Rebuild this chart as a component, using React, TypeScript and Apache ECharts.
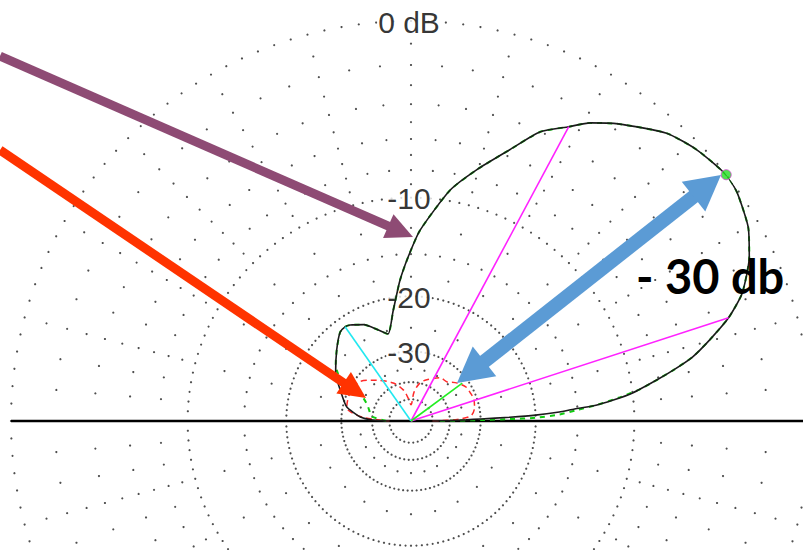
import React, { useEffect, useRef } from "react";
import * as echarts from "echarts";

// ---- grid definition (ARRL log scale, dB) ----
const majorRingDb = [0, -10, -20, -30, -40, -50];
const minorRingDb = [-2, -4, -6, -8, -15];
const radialDotDb = [-1, -3, -5, -7, -9, -12.5, -17.5, -25, -35];
const ringLabelDb = [0, -10, -20, -30];
const ringLabelText = ["0 dB", "-10", "-20", "-30"];

// ---- main pattern (black, total field) : elevation angle (deg) / gain (dB) ----
const mainAngles = [0, 0.6, 1.2, 1.7, 2.2, 2.7, 3.5, 4.2, 4.7, 5.9, 7.2, 9.5, 11, 12.8, 15.2, 18, 21.1, 25.9, 29.9, 35, 38, 43.5, 48.4, 55.1, 59, 61.8, 65.9, 70, 75.3, 80.4, 87.3, 91, 94.5, 99.2, 104.8, 110, 116, 122.4, 125, 128.6, 136.2, 147.4, 159.4, 167.7, 175.5, 178.5, 180];
const mainDb = [-50, -40, -34, -30, -24, -20, -17, -15.3, -13.5, -11.6, -10, -8.1, -6.9, -5.6, -4.4, -3.1, -2.05, -1.06, -0.48, -0.08, 0, -0.26, -0.66, -1.7, -2.4, -3.1, -4.0, -5.6, -7.4, -9.2, -12.7, -15.3, -17.9, -21.9, -25.6, -24.3, -22.6, -21.6, -21.4, -21.6, -23.3, -25.7, -29, -31, -35.4, -40.3, -50];

// ---- co-polar pattern (green dashed) ----
const coAngles = [0, 0.8, 1.1, 1.5, 2.5, 3.8, 5, 6.5, 8, 9.5, 11, 12.8, 15.2, 18, 21.1, 25.9, 29.9, 35, 38, 43.5, 48.4, 55.1, 59, 61.8, 65.9, 70, 75.3, 80.4, 87.3, 91, 94.5, 99.2, 104.8, 110, 116, 122.4, 125, 128.6, 136.2, 143, 147, 150, 153, 160, 170, 174, 180];
const coDb = [-45, -30, -24, -20, -17, -15, -13, -11, -9.3, -8.1, -6.9, -5.6, -4.4, -3.1, -2.05, -1.06, -0.48, -0.08, 0, -0.26, -0.66, -1.7, -2.4, -3.1, -4.0, -5.6, -7.4, -9.2, -12.7, -15.3, -17.9, -21.9, -25.6, -24.3, -22.6, -21.6, -21.4, -21.6, -23.3, -24.8, -26.2, -29, -34, -37, -39, -40, -48];

// ---- cross-polar pattern (red dashed) ----
const crossAngles = [0, 2, 5, 12, 19, 25, 32, 41, 47, 56, 69, 77, 84, 90, 97, 104, 115, 130, 134, 144, 155, 168, 172, 176, 180];
const crossDb = [-50, -37, -32.5, -31.2, -30.8, -31, -31.3, -33, -34.6, -35, -37.8, -40, -45, -55, -49, -43.3, -38.7, -34.6, -33.5, -31, -30.6, -31, -32.6, -37, -50];

// ---- markers ----
const beamEdgeAngles = [61.8, 18];
const beamEdgeDb = -3.1;
const peakAngle = 38;
const peakDb = 0;
const backLobeAngle = 125;
const backLobeDb = -21.4;
const crossAtPeakAngle = 36.5;
const crossAtPeakDb = -31.5;

const annotationText = "- 30 db";

// ARRL log scale: 0.89 per 2 dB
const dbToR = (db: number) => Math.pow(0.89, -db / 2);
const RADIUS_PX = 400;

function buildGridDots() {
  const dots: number[][] = [];
  majorRingDb.forEach((db) => {
    const r = dbToR(db);
    const step = Math.max(2.5, ((4.5 / (r * RADIUS_PX)) * 180) / Math.PI);
    const n = Math.round(360 / step);
    for (let i = 0; i < n; i++) dots.push([r, (i * 360) / n]);
  });
  minorRingDb.forEach((db) => {
    for (let a = 0; a < 360; a += 5) dots.push([dbToR(db), a]);
  });
  radialDotDb.forEach((db) => {
    for (let a = 0; a < 360; a += 15) dots.push([dbToR(db), a]);
  });
  return dots;
}

function arrow(
  x1: number, y1: number, x2: number, y2: number,
  w: number, hl: number, hw: number, color: string, double: boolean
) {
  const dx = x2 - x1, dy = y2 - y1;
  const L = Math.hypot(dx, dy);
  const ux = dx / L, uy = dy / L;
  const px = -uy, py = ux;
  const els: any[] = [];
  const sx = double ? x1 + ux * hl * 0.9 : x1;
  const sy = double ? y1 + uy * hl * 0.9 : y1;
  const ex = x2 - ux * hl * 0.9;
  const ey = y2 - uy * hl * 0.9;
  els.push({
    type: "line",
    z: 100,
    shape: { x1: sx, y1: sy, x2: ex, y2: ey },
    style: { stroke: color, lineWidth: w },
  });
  const head = (tx: number, ty: number, vx: number, vy: number) => ({
    type: "polygon",
    z: 101,
    shape: {
      points: [
        [tx, ty],
        [tx - vx * hl + px * hw, ty - vy * hl + py * hw],
        [tx - vx * hl - px * hw, ty - vy * hl - py * hw],
      ],
    },
    style: { fill: color },
  });
  els.push(head(x2, y2, ux, uy));
  if (double) els.push(head(x1, y1, -ux, -uy));
  return els;
}

const toPolar = (angles: number[], dbs: number[]) =>
  angles.map((a, i) => [dbToR(dbs[i]), a]);

export default function App() {
  const ref = useRef<HTMLDivElement>(null);
  useEffect(() => {
    if (!ref.current) return;
    const chart = echarts.init(ref.current, null, { renderer: "svg", width: 803, height: 550 });
    const radial = (angle: number, db: number) => [[0, angle], [dbToR(db), angle]];
    const lineBase = {
      type: "line",
      coordinateSystem: "polar",
      symbol: "none",
      silent: true,
    };
    chart.setOption({
      animation: false,
      backgroundColor: "#ffffff",
      polar: { center: [411, 421], radius: RADIUS_PX },
      angleAxis: { type: "value", min: 0, max: 360, startAngle: 0, clockwise: false, show: false },
      radiusAxis: { type: "value", min: 0, max: 1, show: false },
      series: [
        {
          type: "scatter",
          coordinateSystem: "polar",
          data: buildGridDots(),
          symbolSize: 2.2,
          itemStyle: { color: "#222" },
          silent: true,
          z: 1,
        },
        {
          type: "scatter",
          coordinateSystem: "polar",
          symbolSize: 1,
          itemStyle: { color: "transparent" },
          silent: true,
          z: 2,
          data: ringLabelDb.map((db, i) => ({ value: [dbToR(db), 90], name: ringLabelText[i] })),
          label: {
            show: true,
            position: "inside",
            formatter: "{b}",
            fontFamily: "Liberation Sans, Arial, sans-serif",
            fontSize: 30,
            lineHeight: 26,
            color: "#000",
            backgroundColor: "#ffffff",
            padding: [0, 1],
            offset: [-2, 1],
          },
        },
        {
          ...lineBase,
          z: 3,
          data: [[1, 0], [0, 0], [1, 180]],
          lineStyle: { color: "#000", width: 2.5 },
        },
        {
          ...lineBase,
          z: 4,
          data: toPolar(crossAngles, crossDb),
          smooth: 0.3,
          lineStyle: { color: "#ff2a2a", width: 1.5, type: [6, 4] },
        },
        {
          ...lineBase,
          z: 4,
          data: toPolar(coAngles, coDb),
          smooth: 0.2,
          lineStyle: { color: "#11cc11", width: 2, type: [5, 5] },
        },
        {
          ...lineBase,
          z: 5,
          data: toPolar(mainAngles, mainDb),
          smooth: 0.2,
          lineStyle: { color: "#1a1a1a", width: 1.6 },
        },
        ...beamEdgeAngles.map((a) => ({
          ...lineBase,
          z: 6,
          data: radial(a, beamEdgeDb),
          lineStyle: { color: "#ff22ff", width: 1.6 },
        })),
        {
          ...lineBase,
          z: 6,
          data: radial(backLobeAngle, backLobeDb),
          lineStyle: { color: "#22e8f0", width: 1.6 },
        },
        {
          ...lineBase,
          z: 6,
          data: radial(crossAtPeakAngle, crossAtPeakDb),
          lineStyle: { color: "#22ee22", width: 1.6 },
        },
        {
          type: "scatter",
          coordinateSystem: "polar",
          silent: true,
          z: 7,
          data: [[dbToR(peakDb), peakAngle]],
          symbolSize: 10,
          itemStyle: { color: "#22dd22", borderColor: "#cc44cc", borderWidth: 1 },
        },
      ],
      graphic: [
        ...arrow(0, 56, 413, 237, 9, 27, 13, "#8e4b74", false),
        ...arrow(0, 150, 366, 398, 9, 27, 13, "#ff3300", false),
        ...arrow(457, 383, 721, 175, 14, 35, 19, "#5b9bd5", true),
        {
          type: "text",
          z: 102,
          style: {
            text: annotationText,
            x: 636,
            y: 276,
            verticalAlign: "middle",
            fill: "#000",
            font: "bold 47px Lato, 'Open Sans', sans-serif",
          },
        },
      ],
    });
    return () => chart.dispose();
  }, []);
  return (
    <div
      ref={ref}
      style={{ position: "fixed", left: 0, top: 0, width: 803, height: 550, background: "#fff" }}
    />
  );
}
